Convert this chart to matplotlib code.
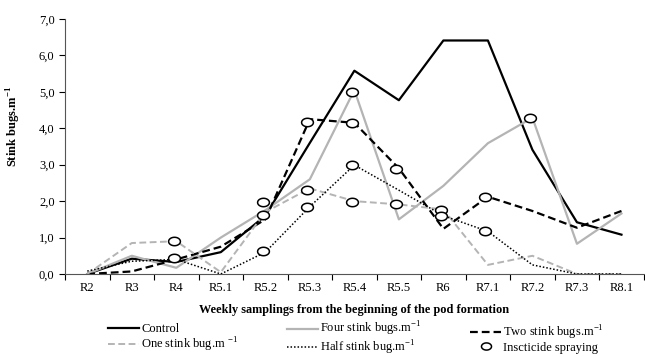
import numpy as np
import matplotlib
matplotlib.use('Agg')
import matplotlib.pyplot as plt
from matplotlib.path import Path

plt.rcParams['font.family'] = ['Liberation Serif', 'DejaVu Serif']
plt.rcParams['mathtext.fontset'] = 'custom'
plt.rcParams['mathtext.rm'] = 'Liberation Serif'
plt.rcParams['mathtext.bf'] = 'Liberation Serif:bold'

stages = ['R2', 'R3', 'R4', 'R5.1', 'R5.2', 'R5.3', 'R5.4', 'R5.5',
          'R6', 'R7.1', 'R7.2', 'R7.3', 'R8.1']

control = [0.0, 0.42, 0.33, 0.6, 1.6, 3.6, 5.58, 4.77, 6.41, 6.41, 3.41, 1.42, 1.08]
four    = [0.0, 0.5, 0.17, 1.0, 1.75, 2.6, 5.05, 1.5, 2.42, 3.59, 4.29, 0.83, 1.66]
two     = [0.0, 0.07, 0.4, 0.75, 1.5, 4.25, 4.15, 2.9, 1.24, 2.12, 1.73, 1.27, 1.73]
one     = [0.0, 0.85, 0.9, 0.05, 1.7, 2.35, 2.0, 1.91, 1.77, 0.25, 0.5, 0.0, 0.0]
half    = [0.08, 0.35, 0.4, 0.0, 0.6, 1.85, 2.99, 2.3, 1.6, 1.17, 0.25, 0.0, 0.0]

# insecticide spraying events (stage, value)
spray_stage = ['R4', 'R4', 'R5.2', 'R5.2', 'R5.2', 'R5.3', 'R5.3', 'R5.3',
               'R5.4', 'R5.4', 'R5.4', 'R5.4', 'R5.5', 'R5.5', 'R6', 'R6',
               'R7.1', 'R7.1', 'R7.2']
spray_val = [0.9, 0.45, 1.63, 1.97, 0.62, 4.17, 2.31, 1.85,
             4.99, 4.14, 2.99, 1.97, 2.88, 1.91, 1.77, 1.6,
             2.12, 1.17, 4.29]

x = np.arange(len(stages))
gray = '#b4b4b4'

# flattened circle marker
t = np.linspace(0, 2 * np.pi, 40)
ellipse = Path(np.column_stack([1.4 * np.cos(t), np.sin(t)]), closed=True)

fig = plt.figure(figsize=(6.45, 3.57), dpi=100)
ax = fig.add_axes([0.1008, 0.2325, 0.8972, 0.7143])

l1, = ax.plot(x, control, color='black', lw=1.6)
l2, = ax.plot(x, four, color=gray, lw=1.6)
l3, = ax.plot(x, two, color='black', lw=1.6, ls=(0, (3.5, 1.8)))
l4, = ax.plot(x, one, color=gray, lw=1.4, ls=(0, (3.5, 1.8)))
l5, = ax.plot(x, half, color='black', lw=1.1, ls=(0, (1, 1.3)))

sx = [stages.index(s) - 0.06 for s in spray_stage]
l6, = ax.plot(sx, spray_val, ls='none', marker=ellipse, ms=8.5, mfc='white',
              mec='black', mew=1.1)

ax.set_xlim(-0.5, len(stages) - 0.5)
ax.set_ylim(0, 7)
ax.set_xticks(x)
ax.set_xticklabels(stages, fontsize=9)
ax.set_xticks(np.arange(-0.5, len(stages), 1), minor=True)
ax.tick_params(axis='x', which='major', length=0, pad=6)
ax.tick_params(axis='x', which='minor', length=4, width=0.8, direction='out')
yt = np.arange(0, 8, 1)
ax.set_yticks(yt)
ax.set_yticklabels([f'{v:.1f}'.replace('.', ',') for v in yt], fontsize=9)
ax.tick_params(axis='y', length=4, width=0.8, direction='out')
for s in ['top', 'right']:
    ax.spines[s].set_visible(False)
for s in ['left', 'bottom']:
    ax.spines[s].set_linewidth(0.8)
    ax.spines[s].set_color('#555555')

ax.set_ylabel('Stink bugs.m$^{\\mathbf{-1}}$', fontsize=9, fontweight='bold')
ax.yaxis.set_label_coords(-0.073, 0.58)
ax.set_xlabel('Weekly samplings from the beginning of the pod formation',
              fontsize=8.8, fontweight='bold', labelpad=7)

# legend: three columns placed separately
cols = [
    ([l1, l4], ['Control', 'One stink bug.m $^{-1}$'], 108),
    ([l2, l5], ['Four stink bugs.m$^{-1}$', 'Half stink bug.m$^{-1}$'], 287),
    ([l3, l6], ['Two stink bugs.m$^{-1}$', 'Inscticide spraying'], 470),
]
for handles, labels, x0 in cols:
    fig.legend(handles, labels, loc='center left',
               bbox_to_anchor=(x0 / 645, 1 - 338.5 / 357),
               frameon=False, fontsize=9, handlelength=2.5,
               handletextpad=0.15, labelspacing=0.0,
               borderpad=0, borderaxespad=0, markerscale=0.85)

fig.savefig('out.png', dpi=100)
